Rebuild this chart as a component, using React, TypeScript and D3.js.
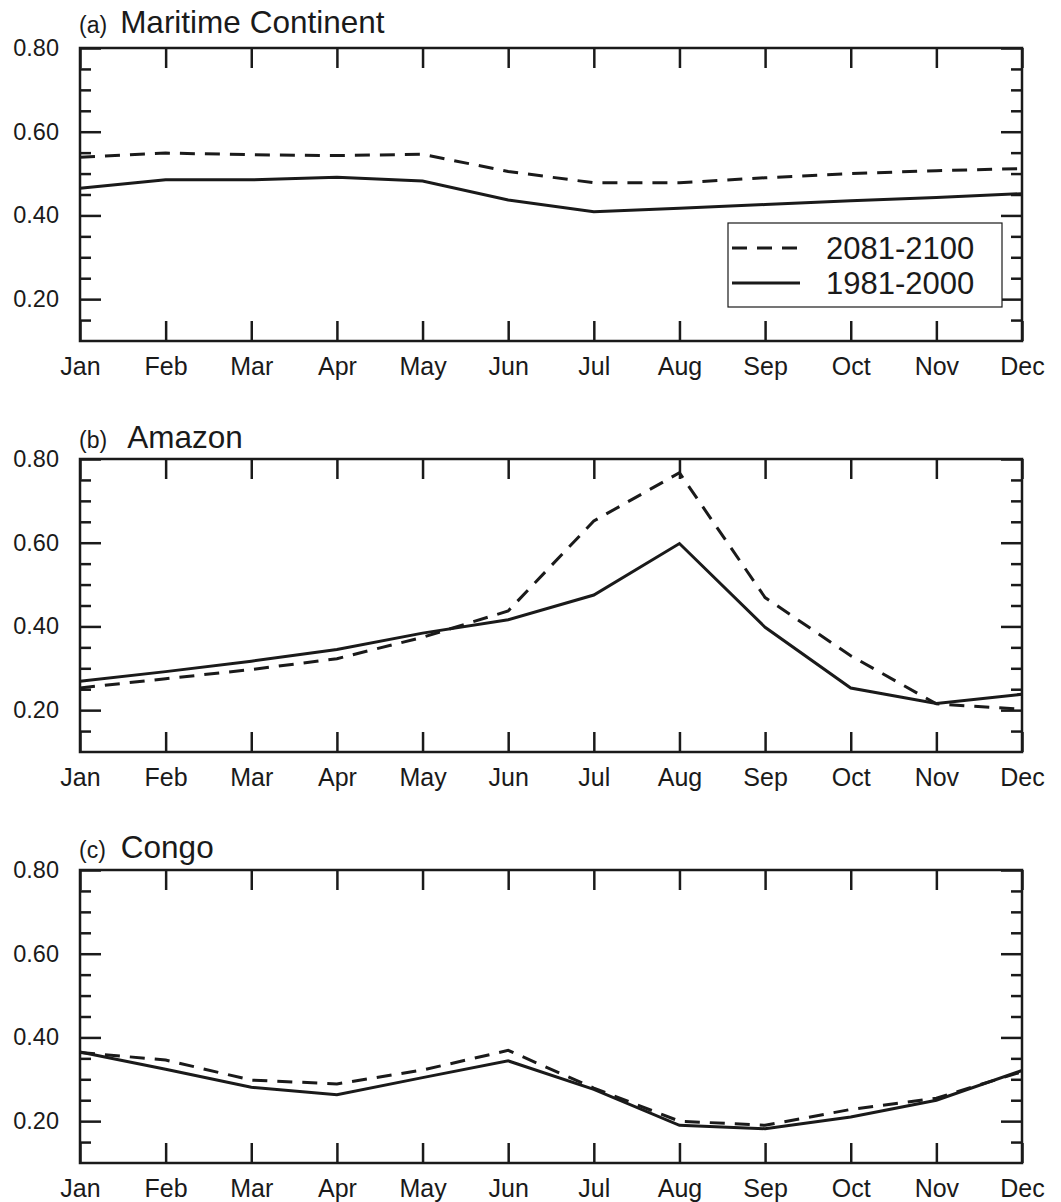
import * as d3 from 'd3';
import { useEffect, useRef } from 'react';

const months = ['Jan', 'Feb', 'Mar', 'Apr', 'May', 'Jun', 'Jul', 'Aug', 'Sep', 'Oct', 'Nov', 'Dec'];
const seriesNames = ['2081-2100', '1981-2000'];
const panelTags = ['(a)', '(b)', '(c)'];
const panelNames = ['Maritime Continent', 'Amazon', 'Congo'];

// values
const maritimeFuture = [0.539, 0.549, 0.545, 0.543, 0.546, 0.505, 0.478, 0.478, 0.49, 0.5, 0.507, 0.512];
const maritimePast = [0.465, 0.485, 0.485, 0.491, 0.482, 0.437, 0.409, 0.417, 0.426, 0.435, 0.443, 0.452];
const amazonFuture = [0.253, 0.275, 0.297, 0.323, 0.374, 0.437, 0.652, 0.767, 0.469, 0.33, 0.215, 0.202];
const amazonPast = [0.269, 0.292, 0.317, 0.345, 0.384, 0.416, 0.475, 0.598, 0.398, 0.253, 0.216, 0.238];
const congoFuture = [0.364, 0.346, 0.298, 0.289, 0.322, 0.369, 0.279, 0.2, 0.19, 0.228, 0.255, 0.318];
const congoPast = [0.365, 0.324, 0.281, 0.263, 0.304, 0.344, 0.276, 0.19, 0.182, 0.21, 0.25, 0.321];

const yMajor = [0.2, 0.4, 0.6, 0.8];
const yMinor = [0.15, 0.25, 0.3, 0.35, 0.45, 0.5, 0.55, 0.65, 0.7, 0.75];

const panels = [
  { tag: panelTags[0], name: panelNames[0], future: maritimeFuture, past: maritimePast },
  { tag: panelTags[1], name: panelNames[1], future: amazonFuture, past: amazonPast },
  { tag: panelTags[2], name: panelNames[2], future: congoFuture, past: congoPast },
];

const W = 1061;
const H = 1202;
const FONT = '"Liberation Sans", Arial, Helvetica, sans-serif';

const App = () => {
  const svgRef = useRef<SVGSVGElement>(null);

  useEffect(() => {
    const svg = d3.select(svgRef.current);
    svg.selectAll('*').remove();

    const left = 80;
    const right = 1022;
    const panelTop = [48, 459, 870];
    const titleY = [33, 448, 858];
    const nameGap = [13, 20, 15];
    const panelH = 293;

    const x = d3.scalePoint<string>().domain(months).range([left, right]);

    panels.forEach((p, pi) => {
      const top = panelTop[pi];
      const y = d3.scaleLinear([0.1, 0.8], [top + panelH, top]);
      const g = svg.append('g');

      // ticks (inward) on all four sides
      const styleAxis = (sel) => {
        sel.select('.domain').remove();
        sel.selectAll('.tick line').attr('stroke', '#1a1a1a').attr('stroke-width', 2.5);
        sel.selectAll('.tick text').attr('font-family', FONT).attr('fill', '#1a1a1a');
      };

      g.append('g')
        .attr('transform', `translate(${left},0)`)
        .call(d3.axisLeft(y).tickValues(yMinor).tickSize(-11).tickFormat(() => ''))
        .call(styleAxis);
      g.append('g')
        .attr('transform', `translate(${left},0)`)
        .call(d3.axisLeft(y).tickValues(yMajor).tickSize(-21).tickPadding(21).tickFormat(d3.format('.2f')))
        .call(styleAxis)
        .call((s) => s.selectAll('.tick text').attr('font-size', 23.5));
      g.append('g')
        .attr('transform', `translate(${right},0)`)
        .call(d3.axisRight(y).tickValues(yMinor).tickSize(-11).tickFormat(() => ''))
        .call(styleAxis);
      g.append('g')
        .attr('transform', `translate(${right},0)`)
        .call(d3.axisRight(y).tickValues(yMajor).tickSize(-21).tickFormat(() => ''))
        .call(styleAxis);
      g.append('g')
        .attr('transform', `translate(0,${top + panelH})`)
        .call(d3.axisBottom(x).tickSize(-20).tickPadding(16))
        .call(styleAxis)
        .call((s) => s.selectAll('.tick text').attr('font-size', 25));
      g.append('g')
        .attr('transform', `translate(0,${top})`)
        .call(d3.axisTop(x).tickSize(-20).tickFormat(() => ''))
        .call(styleAxis);

      // frame
      g.append('rect')
        .attr('x', left)
        .attr('y', top)
        .attr('width', right - left)
        .attr('height', panelH)
        .attr('fill', 'none')
        .attr('stroke', '#1a1a1a')
        .attr('stroke-width', 2.5);

      const line = d3
        .line<number>()
        .x((_, i) => x(months[i]))
        .y((d) => y(d));

      g.append('path')
        .attr('d', line(p.future))
        .attr('fill', 'none')
        .attr('stroke', '#1a1a1a')
        .attr('stroke-width', 3)
        .attr('stroke-dasharray', '15,10');
      g.append('path')
        .attr('d', line(p.past))
        .attr('fill', 'none')
        .attr('stroke', '#1a1a1a')
        .attr('stroke-width', 3);

      // title
      const title = g.append('text')
        .attr('x', left - 1)
        .attr('y', titleY[pi])
        .attr('font-family', FONT)
        .attr('fill', '#1a1a1a');
      title.append('tspan').attr('font-size', 23).text(p.tag);
      title.append('tspan').attr('font-size', 31.5).attr('dx', nameGap[pi]).text(p.name);

      // legend in first panel
      if (pi === 0) {
        const lg = g.append('g');
        lg.append('rect')
          .attr('x', 728)
          .attr('y', 223)
          .attr('width', 274)
          .attr('height', 84)
          .attr('fill', '#fff')
          .attr('stroke', '#1a1a1a')
          .attr('stroke-width', 1.2);
        seriesNames.forEach((name, i) => {
          const ly = 248 + i * 35;
          lg.append('line')
            .attr('x1', 732)
            .attr('x2', 800)
            .attr('y1', ly)
            .attr('y2', ly)
            .attr('stroke', '#1a1a1a')
            .attr('stroke-width', 3)
            .attr('stroke-dasharray', i === 0 ? '15,10' : null);
          lg.append('text')
            .attr('x', 826)
            .attr('y', ly + 11)
            .attr('font-family', FONT)
            .attr('font-size', 31)
            .attr('fill', '#1a1a1a')
            .text(name);
        });
      }
    });
  }, []);

  return (
    <svg
      ref={svgRef}
      width={W}
      height={H}
      viewBox={`0 0 ${W} ${H}`}
      style={{ position: 'absolute', left: 0, top: 0, background: '#fff' }}
    />
  );
};

export default App;
